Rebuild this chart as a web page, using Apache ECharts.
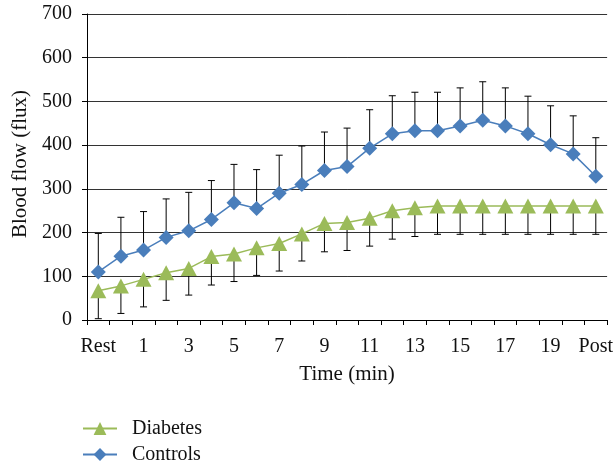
<!DOCTYPE html>
<html>
<head>
<meta charset="utf-8">
<script src="https://cdn.jsdelivr.net/npm/echarts@6/dist/echarts.min.js"></script>
<style>
html,body{margin:0;padding:0;background:#fff;}
#chart{width:616px;height:467px;}
</style>
</head>
<body>
<div id="chart"></div>
<script>
const categories = ['Rest','0','1','2','3','4','5','6','7','8','9','10','11','12','13','14','15','16','17','18','19','20','Post'];
const controls = [110,146,160,189,204,230,268,255,290,310,342,351,393,426,433,433,444,457,444,426,401,380,329];
const controlsUpper = [198,235,248,277,292,319,356,344,377,398,430,439,481,513,521,521,531,545,531,512,490,467,417];
const diabetes = [67,78,93,108,118,145,151,165,175,197,221,223,233,250,257,261,261,261,261,261,261,261,261];
const diabetesLower = [3,15,30,45,57,80,88,102,112,135,156,159,169,185,191,196,196,196,196,196,196,196,196];
const yTicks = {min:0, max:700, interval:100};

const FONT = 'Liberation Serif';
const chart = echarts.init(document.getElementById('chart'), null, {renderer:'canvas'});

function errData(vals, ends){ return vals.map((v,i)=>[i, v, ends[i]]); }
function errRender(params, api){
  const x = api.value(0);
  const p1 = api.coord([x, api.value(1)]);
  const p2 = api.coord([x, api.value(2)]);
  const hw = 3.5;
  const st = {stroke:'#000', lineWidth:1};
  return {type:'group', children:[
    {type:'line', shape:{x1:p1[0], y1:p1[1], x2:p2[0], y2:p2[1]}, style:st},
    {type:'line', shape:{x1:p2[0]-hw, y1:p2[1], x2:p2[0]+hw, y2:p2[1]}, style:st}
  ]};
}

chart.setOption({
  animation:false,
  backgroundColor:'#fff',
  textStyle:{fontFamily:FONT},
  grid:{left:87, right:7, top:14, bottom:147, containLabel:false},
  xAxis:{
    type:'category', data:categories, boundaryGap:true,
    name:'Time (min)', nameLocation:'middle', nameGap:44,
    nameTextStyle:{fontFamily:FONT, fontSize:21, color:'#111'},
    axisLine:{lineStyle:{color:'#000', width:1}},
    axisTick:{show:true, interval:0, length:5, lineStyle:{color:'#000'}},
    axisLabel:{interval:1, margin:17, fontFamily:FONT, fontSize:20, color:'#111'},
    splitLine:{show:false}
  },
  yAxis:{
    type:'value', min:yTicks.min, max:yTicks.max, interval:yTicks.interval,
    name:'Blood flow (flux)', nameLocation:'middle', nameGap:55, nameRotate:90,
    nameTextStyle:{fontFamily:FONT, fontSize:21, color:'#111', padding:[0,0,0,6]},
    axisLine:{show:true, lineStyle:{color:'#000', width:1}},
    axisTick:{show:true, length:5, lineStyle:{color:'#000'}},
    axisLabel:{margin:15, fontFamily:FONT, fontSize:20, color:'#111'},
    splitLine:{show:true, lineStyle:{color:'#333', width:1}}
  },
  legend:{
    orient:'vertical', left:82, top:416, padding:0, itemWidth:34, itemHeight:16, itemGap:1,
    data:['Diabetes','Controls'],
    formatter: function(n){ return '  ' + n; },
    textStyle:{fontFamily:FONT, fontSize:20, lineHeight:25, color:'#111'}
  },
  series:[
    {name:'errC', type:'custom', renderItem:errRender, data:errData(controls, controlsUpper), encode:{x:0, y:[1,2]}, z:1, silent:true},
    {name:'errD', type:'custom', renderItem:errRender, data:errData(diabetes, diabetesLower), encode:{x:0, y:[1,2]}, z:1, silent:true},
    {name:'Diabetes', type:'line', data:diabetes, symbol:'triangle', symbolSize:[16,15],
      itemStyle:{color:'#9BBB59'}, lineStyle:{color:'#9BBB59', width:1.5}, z:3},
    {name:'Controls', type:'line', data:controls, symbol:'diamond', symbolSize:[15,15],
      itemStyle:{color:'#4A7EBB'}, lineStyle:{color:'#4A7EBB', width:1.5}, z:4}
  ]
});
</script>
</body>
</html>
